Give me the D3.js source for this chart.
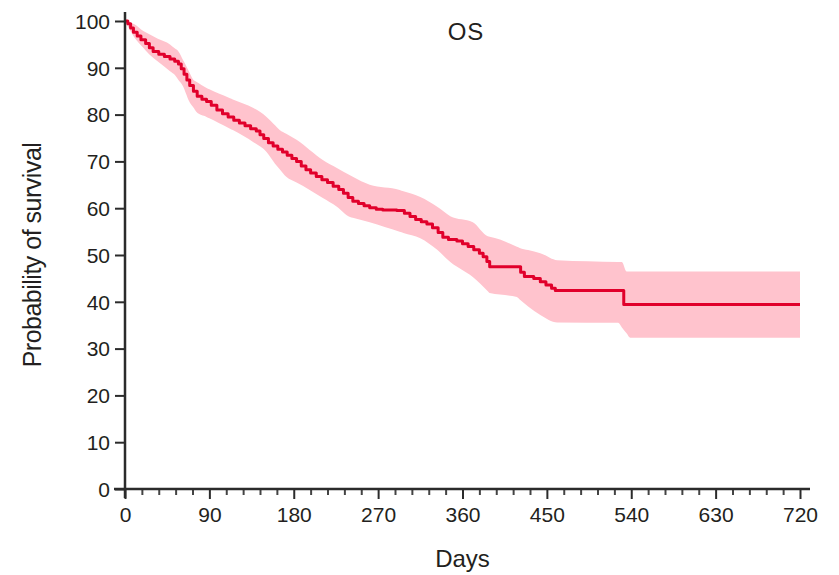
<!DOCTYPE html>
<html>
<head>
<meta charset="utf-8">
<script src="https://cdn.jsdelivr.net/npm/d3@7"></script>
<style>
  html, body { margin: 0; padding: 0; background: #fff; }
  svg { display: block; }
</style>
</head>
<body>
<svg id="chart" width="839" height="575"></svg>
<script>
// ---- Data ----
const title = "OS";
const xLabel = "Days";
const yLabel = "Probability of survival";
const xTicks = [0, 90, 180, 270, 360, 450, 540, 630, 720];
const yTicks = [0, 10, 20, 30, 40, 50, 60, 70, 80, 90, 100];

// Kaplan-Meier estimate (day, survival %)
const kmDays = [0,3,6,9,13,17,22,26,30,36,42,48,53,57,60,63,66,69,73,77,82,87,92,98,104,110,116,122,128,134,140,144,148,153,158,163,168,173,178,183,188,193,198,204,210,216,222,228,233,238,243,249,255,261,268,275,290,298,304,310,316,322,328,334,339,345,354,360,366,372,378,382,386,389,419,422,426,436,443,449,455,459,532,720];
const kmSurv = [100,99.4,98.5,97.6,96.8,96.0,95.2,94.3,93.5,92.9,92.4,91.9,91.4,90.8,89.8,88.6,87.4,86.2,85.0,83.9,83.3,82.8,82.0,81.0,80.2,79.5,78.8,78.2,77.6,77.0,76.5,75.7,74.9,74.0,73.3,72.6,72.0,71.3,70.6,70.0,69.0,68.2,67.5,66.8,66.1,65.5,64.7,64.0,63.2,62.3,61.5,61.0,60.5,60.1,59.8,59.6,59.5,58.9,58.2,57.6,57.1,56.6,55.8,54.8,53.8,53.3,53.0,52.4,51.8,51.1,50.4,49.6,48.6,47.5,47.5,46.3,45.4,45.0,44.3,43.6,42.9,42.4,39.4,39.4];

// 95% confidence band
const ciUpperDays = [0,10,20,35,48,57,65,73,87,100,112,137,151,165,183,211,243,261,293,315,333,347,371,387,400,421,443,461,530,535,720];
const ciUpper     = [100,99.3,97.8,96.2,95.0,93.5,90.5,87.4,85.7,84.5,83.5,81.4,79.5,76.7,74.6,70.3,66.7,65.0,63.9,62.4,60.3,58.3,57.0,54.0,53.3,51.5,50.4,48.9,48.5,46.5,46.5];
const ciLowerDays = [0,10,23,34,53,62,68,76,90,115,137,151,160,172,197,226,240,261,297,315,333,347,371,389,418,430,443,461,526,539,720];
const ciLower     = [100,96.5,93.5,91.5,88.5,86.0,83.0,80.6,79.2,76.7,74.1,72.0,69.5,66.7,63.9,60.3,58.1,57.0,54.7,53.6,51.1,48.5,45.3,41.9,41.0,39.0,37.2,35.6,35.5,32.3,32.3];

// ---- Build ----
const km = kmDays.map((d, i) => ({ d, s: kmSurv[i] }));
const bandDays = Array.from(new Set([...ciUpperDays, ...ciLowerDays])).sort((a, b) => a - b);
const upInterp = d3.scaleLinear().domain(ciUpperDays).range(ciUpper);
const loInterp = d3.scaleLinear().domain(ciLowerDays).range(ciLower);
const band = bandDays.map(d => ({ d, hi: upInterp(d), lo: loInterp(d) }));

const svg = d3.select("#chart");
const margin = { left: 125, right: 39, top: 21, bottom: 86 };
const W = 839, H = 575;

const x = d3.scaleLinear().domain([0, 720]).range([margin.left, W - margin.right]);
const y = d3.scaleLinear().domain([0, 100]).range([H - margin.bottom, margin.top]);

const axisColor = "#2b2b2b";
const textColor = "#231f20";
const font = "'Liberation Sans', Arial, sans-serif";

// Confidence band
svg.append("path")
  .datum(band)
  .attr("fill", "#ffc3cd")
  .attr("stroke", "none")
  .attr("d", d3.area().x(p => x(p.d)).y0(p => y(p.lo)).y1(p => y(p.hi)).curve(d3.curveMonotoneX));

// KM line
svg.append("path")
  .datum(km)
  .attr("fill", "none")
  .attr("stroke", "#e1002b")
  .attr("stroke-width", 3)
  .attr("stroke-linejoin", "round")
  .attr("d", d3.line().x(p => x(p.d)).y(p => y(p.s)).curve(d3.curveStepAfter));

// X axis: minor ticks
const minorTicks = d3.range(0, 721, 18).filter(v => v % 90 !== 0);
const xMinor = svg.append("g")
  .attr("transform", `translate(0,${y(0)})`)
  .call(d3.axisBottom(x).tickValues(minorTicks).tickSize(6).tickFormat(""));
xMinor.select(".domain").remove();
xMinor.selectAll(".tick line").attr("stroke", "#444").attr("stroke-width", 2);

// X axis: major ticks
const xAxis = svg.append("g")
  .attr("transform", `translate(0,${y(0)})`)
  .call(d3.axisBottom(x).tickValues(xTicks).tickSize(10).tickPadding(8).tickFormat(d3.format("d")));
xAxis.select(".domain").remove();
xAxis.selectAll(".tick line").attr("stroke", axisColor).attr("stroke-width", 2);
xAxis.selectAll(".tick text")
  .attr("fill", textColor)
  .style("font-family", font)
  .style("font-size", "21px");

// Y axis
const yAxis = svg.append("g")
  .attr("transform", `translate(${x(0)},0)`)
  .call(d3.axisLeft(y).tickValues(yTicks).tickSize(10).tickPadding(5).tickFormat(d3.format("d")));
yAxis.select(".domain").remove();
yAxis.selectAll(".tick line").attr("stroke", axisColor).attr("stroke-width", 2);
yAxis.selectAll(".tick text")
  .attr("fill", textColor)
  .attr("dy", "0.35em")
  .style("font-family", font)
  .style("font-size", "21px");

// Axis lines (extending slightly past the origin, as in the reference)
svg.append("line")
  .attr("x1", x(0) - 11).attr("x2", x(720) + 10)
  .attr("y1", y(0)).attr("y2", y(0))
  .attr("stroke", axisColor).attr("stroke-width", 2.5);
svg.append("line")
  .attr("x1", x(0)).attr("x2", x(0))
  .attr("y1", y(0) + 9).attr("y2", y(100) - 9)
  .attr("stroke", axisColor).attr("stroke-width", 2.5);

// Title
svg.append("text")
  .attr("x", 466).attr("y", 40)
  .attr("text-anchor", "middle")
  .attr("fill", textColor)
  .style("font-family", font)
  .style("font-size", "24px")
  .style("letter-spacing", "1px")
  .text(title);

// X label
svg.append("text")
  .attr("x", (x(0) + x(720)) / 2).attr("y", 567)
  .attr("text-anchor", "middle")
  .attr("fill", textColor)
  .style("font-family", "'Liberation Sans Narrow', 'Liberation Sans', sans-serif")
  .style("font-size", "24px")
  .text(xLabel);

// Y label
svg.append("text")
  .attr("transform", `translate(41,${(y(0) + y(100)) / 2}) rotate(-90)`)
  .attr("text-anchor", "middle")
  .attr("fill", textColor)
  .style("font-family", "'Liberation Sans Narrow', 'Liberation Sans', sans-serif")
  .style("font-size", "25px")
  .style("letter-spacing", "-0.5px")
  .text(yLabel);
</script>
</body>
</html>
